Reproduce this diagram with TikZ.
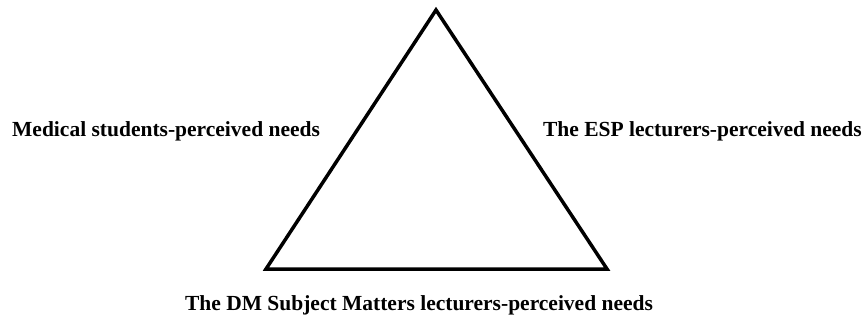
\documentclass[tikz,border=0pt]{standalone}
\usepackage{fontspec}
\setmainfont{Liberation Serif}
\begin{document}
\begin{tikzpicture}[x=1pt,y=-1pt,
  lbl/.style={font=\fontsize{21.5}{24}\selectfont\bfseries, inner sep=0pt},
  tri/.style={line width=3.5pt, line join=miter}]
\useasboundingbox (0,0) rectangle (866,323);
\coordinate (A) at (436,10);
\coordinate (B) at (266,269);
\coordinate (C) at (607,269);
\draw[tri] (A) -- (B) -- (C) -- cycle;
\node[lbl, anchor=west] (l) at (12,131) {Medical students-perceived needs};
\node[lbl, anchor=east] (r) at (862,131) {The ESP lecturers-perceived needs};
\node[lbl] (b) at (419,305) {The DM Subject Matters lecturers-perceived needs};
\end{tikzpicture}
\end{document}
